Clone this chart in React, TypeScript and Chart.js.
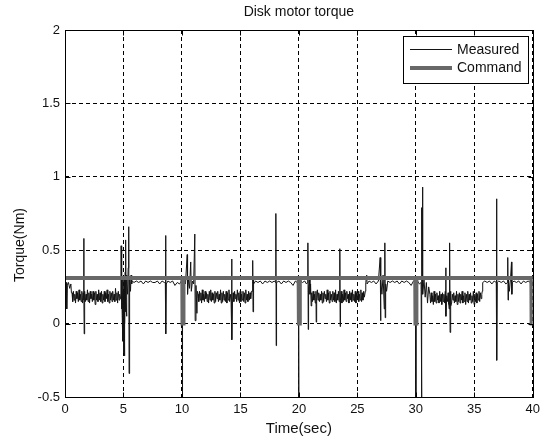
import { useEffect, useRef } from 'react';
import { Chart, registerables } from 'chart.js';

Chart.register(...registerables);

const FONT = "'Liberation Sans', Arial, Helvetica, sans-serif";

const TITLE = 'Disk motor torque';
const X_LABEL = 'Time(sec)';
const Y_LABEL = 'Torque(Nm)';
const LEGEND_LABELS = ['Measured', 'Command'];

const X_MIN = 0;
const X_MAX = 40;
const X_STEP = 5;
const Y_MIN = -0.5;
const Y_MAX = 2;
const Y_STEP = 0.5;

// Measured torque: explicit [time (s), torque (Nm)] points (spikes, transitions, high plateaus)
const measuredStart: [number, number][] = [[0,.27],[0.05,.25],[0.1,.28],[0.15,.1],[0.2,.26],[0.3,.28],[0.4,.24],[0.5,.27],[0.55,.21]];
const measuredSpikes1: [number, number][] = [[1.61,.58],[1.64,-.07]];
const measuredBurst1: [number, number][] = [[4.78,.19],[4.8,.53],[4.83,.1],[4.86,.24],[4.9,.02],[4.93,.3],[4.95,-.12],[4.97,.22],[5.0,-.2],[5.02,.12],[5.05,.31],[5.07,-.22],[5.1,.18],[5.12,0],[5.15,.35],[5.17,.08],[5.2,.57],[5.22,.15],[5.25,.33],[5.28,.05],[5.3,.27],[5.35,.2],[5.4,.38],[5.45,.66],[5.48,-.34],[5.5,.25],[5.55,.31],[5.6,.22],[5.65,.33],[5.7,.27],[5.75,.29]];
const measuredHigh1: [number, number][] = [[5.9,.28],[6.1,.29],[6.3,.28],[6.5,.29],[6.7,.27],[6.9,.29],[7.1,.28],[7.3,.29],[7.5,.28],[7.7,.28],[7.9,.29],[8.1,.27],[8.3,.29],[8.5,.28],[8.58,.28],[8.6,.6],[8.63,-.07],[8.66,.27],[8.8,.29],[9.0,.28],[9.2,.29],[9.4,.26],[9.6,.28],[9.8,.27],[9.95,.29],[10.02,.28],[10.04,-.5],[10.06,.28],[10.15,.29],[10.3,.27],[10.45,.47],[10.48,.2],[10.55,.3],[10.65,.24],[10.75,.42],[10.8,.22],[10.9,.29],[11.0,.27],[11.1,.61],[11.13,.02],[11.2,.26],[11.28,.07],[11.32,.22]];
const measuredSpikes2: [number, number][] = [[14.25,.44],[14.28,-.11],[16.0,.22],[16.05,.43],[16.08,.08],[16.1,.3],[16.15,.27]];
const measuredHigh2: [number, number][] = [[16.3,.29],[16.5,.28],[16.7,.29],[16.9,.27],[17.1,.29],[17.3,.28],[17.5,.29],[17.7,.28],[17.9,.29],[18.0,.28],[18.03,.75],[18.06,-.15],[18.09,.28],[18.3,.29],[18.5,.27],[18.7,.29],[18.9,.28],[19.1,.29],[19.3,.28],[19.5,.26],[19.7,.29],[19.85,.28],[19.96,.28],[19.98,-.5],[20.0,.27],[20.15,.29],[20.3,.28],[20.5,.29],[20.65,.27],[20.75,.28],[20.77,.55],[20.8,-.04],[20.83,.25],[20.9,.3],[20.95,.2],[21.0,.27],[21.05,.12]];
const measuredSpikes3: [number, number][] = [[21.48,.01],[23.5,.51],[23.53,-.02],[25.68,.22],[25.72,.28],[25.8,.33],[25.83,.27]];
const measuredHigh3: [number, number][] = [[26.0,.29],[26.2,.28],[26.4,.29],[26.6,.27],[26.8,.29],[26.95,.45],[26.98,.02],[27.02,.3],[27.1,.2],[27.2,.33],[27.3,.1],[27.35,.55],[27.38,.04],[27.42,.27],[27.5,.22],[27.6,.29],[27.8,.28],[28.0,.29],[28.2,.28],[28.4,.29],[28.6,.27],[28.8,.29],[29.0,.28],[29.2,.29],[29.4,.28],[29.6,.26],[29.8,.29],[29.96,.28],[30.0,-.5],[30.03,.26],[30.15,.29],[30.3,.27],[30.45,.28],[30.48,-.5],[30.52,.79],[30.55,.28],[30.57,.93],[30.6,.2],[30.7,.3],[30.8,.18],[30.9,.28],[31.0,.14],[31.1,.25]];
const measuredSpikes4: [number, number][] = [[32.55,.38],[32.58,.05],[32.85,.1],[32.9,.55],[32.93,-.06],[33.0,.12],[35.68,.22],[35.72,.28]];
const measuredHigh4: [number, number][] = [[35.9,.29],[36.1,.28],[36.3,.29],[36.5,.27],[36.7,.29],[36.88,.28],[36.9,.85],[36.93,-.25],[36.96,.28],[37.1,.29],[37.3,.28],[37.5,.29],[37.7,.27],[37.84,.28],[37.86,.45],[37.89,.16],[37.92,.3],[38.0,.22],[38.1,.31],[38.18,.42],[38.21,.2],[38.25,.28],[38.4,.29],[38.6,.28],[38.8,.29],[39.0,.27],[39.2,.29],[39.4,.28],[39.6,.29],[39.8,.28],[40.0,.29]];

// Measured torque on the low plateaus: samples every SAMPLE_DT seconds from the given start time
const SAMPLE_DT = 0.06;
const low1Start = 0.6;
const low1Torque = [.21,.15,.22,.16,.2,.14,.22,.17,.21,.15,.23,.16,.2,.15,.22,.14,.21,.16,.22,.15,.2,.16,.23,.15,.21,.14,.22,.17,.2,.15,.22,.16,.21,.13,.22,.16,.2,.15,.23,.16,.21,.15,.22,.14,.2,.16,.22,.15,.21,.17,.23,.15,.2,.14,.22,.16,.21,.15,.22,.16,.2,.15,.24,.16,.21,.14,.22,.16,.2,.17];
const low2Start = 11.38;
const low2Torque = [.2,.15,.22,.16,.21,.14,.23,.16,.2,.15,.22,.17,.21,.15,.2,.14,.22,.16,.23,.15,.21,.16,.2,.14,.22,.15,.21,.17,.22,.15,.2,.16,.23,.14,.21,.15,.22,.16,.2,.15,.22,.14,.21,.16,.23,.15,.2,.16,.22,.14,.21,.15,.22,.17,.2,.15,.23,.16,.21,.14,.22,.15,.2,.16,.22,.15,.21,.14,.23,.16,.2,.15,.22,.16,.21,.17,.22];
const low3Start = 21.1;
const low3Torque = [.21,.15,.22,.16,.2,.14,.22,.15,.23,.16,.21,.15,.2,.16,.22,.14,.21,.15,.22,.17,.2,.15,.23,.16,.21,.14,.22,.16,.2,.15,.22,.16,.21,.15,.23,.14,.2,.16,.22,.15,.21,.16,.22,.14,.2,.15,.23,.16,.21,.15,.22,.17,.2,.14,.22,.16,.21,.15,.23,.16,.2,.15,.22,.14,.21,.16,.22,.15,.2,.16,.23,.15,.21,.16,.22,.18];
const low4Start = 31.2;
const low4Torque = [.2,.14,.21,.15,.19,.13,.22,.15,.2,.14,.21,.16,.19,.14,.22,.15,.2,.13,.21,.15,.2,.14,.22,.16,.19,.15,.21,.13,.2,.15,.22,.14,.2,.16,.21,.14,.19,.15,.22,.13,.2,.15,.21,.14,.2,.16,.22,.14,.19,.15,.21,.13,.2,.15,.22,.14,.2,.16,.21,.14,.19,.15,.22,.13,.2,.15,.21,.14,.2,.16,.22,.15,.21,.17,.2];

// Command torque, [time (s), torque (Nm)]
const commandSeries: [number, number][] = [[0,.31],[10.03,.31],[10.05,0],[10.11,0],[10.13,.31],[19.98,.31],[20.0,0],[20.06,0],[20.08,.31],[29.95,.31],[29.97,0],[30.03,0],[30.05,.31],[39.88,.31],[39.9,0],[40,0]];

const MEASURED_COLOR = '#141414';
const COMMAND_COLOR = '#686868';

const sampled = (start: number, values: number[]) =>
  values.map((v, i) => [start + i * SAMPLE_DT, v] as [number, number]);

const measuredSeries: [number, number][] = [
  ...measuredStart, ...sampled(low1Start, low1Torque), ...measuredSpikes1, ...measuredBurst1, ...measuredHigh1,
  ...sampled(low2Start, low2Torque), ...measuredSpikes2, ...measuredHigh2,
  ...sampled(low3Start, low3Torque), ...measuredSpikes3, ...measuredHigh3,
  ...sampled(low4Start, low4Torque), ...measuredSpikes4, ...measuredHigh4,
].sort((a, b) => a[0] - b[0]);

const toPoints = (arr: [number, number][]) => arr.map(([x, y]) => ({ x, y }));

const decorPlugin = {
  id: 'matlabDecor',
  afterDraw(chart: any) {
    const { ctx, chartArea: a, scales } = chart;
    const L = Math.round(a.left) + 0.5;
    const R = Math.round(a.right) + 0.5;
    const T = Math.round(a.top) + 0.5;
    const B = Math.round(a.bottom) + 0.5;
    ctx.save();
    ctx.strokeStyle = '#000';
    ctx.lineWidth = 1;
    ctx.setLineDash([]);
    ctx.beginPath();
    const xs = scales.x;
    const ys = scales.y;
    for (const t of xs.ticks) {
      const px = Math.round(xs.getPixelForValue(t.value)) + 0.5;
      ctx.moveTo(px, B); ctx.lineTo(px, B - 5);
      ctx.moveTo(px, T); ctx.lineTo(px, T + 5);
    }
    for (const t of ys.ticks) {
      const py = Math.round(ys.getPixelForValue(t.value)) + 0.5;
      ctx.moveTo(L, py); ctx.lineTo(L + 5, py);
      ctx.moveTo(R, py); ctx.lineTo(R - 5, py);
    }
    ctx.stroke();
    ctx.strokeRect(L, T, R - L, B - T);

    ctx.fillStyle = '#111';
    ctx.font = `14px ${FONT}`;
    ctx.textAlign = 'center';
    ctx.textBaseline = 'middle';
    ctx.fillText(TITLE, (a.left + a.right) / 2, 12);

    ctx.save();
    ctx.translate(20, 245);
    ctx.rotate(-Math.PI / 2);
    ctx.fillText(Y_LABEL, 0, 0);
    ctx.restore();

    const lx = 403.5, ly = 36.5, lw = 125, lh = 47;
    ctx.fillStyle = '#fff';
    ctx.fillRect(lx, ly, lw, lh);
    ctx.strokeStyle = '#000';
    ctx.lineWidth = 1;
    ctx.strokeRect(lx, ly, lw, lh);
    ctx.beginPath();
    ctx.strokeStyle = MEASURED_COLOR;
    ctx.lineWidth = 1;
    ctx.moveTo(410, 49.5); ctx.lineTo(452, 49.5);
    ctx.stroke();
    ctx.beginPath();
    ctx.strokeStyle = COMMAND_COLOR;
    ctx.lineWidth = 4;
    ctx.moveTo(410, 68); ctx.lineTo(452, 68);
    ctx.stroke();
    ctx.fillStyle = '#111';
    ctx.font = `14px ${FONT}`;
    ctx.textAlign = 'left';
    ctx.textBaseline = 'middle';
    ctx.fillText(LEGEND_LABELS[0], 457, 50);
    ctx.fillText(LEGEND_LABELS[1], 457, 68);
    ctx.restore();
  },
};

export default function App() {
  const ref = useRef<HTMLCanvasElement | null>(null);
  useEffect(() => {
    if (!ref.current) return;
    const chart = new Chart(ref.current, {
      type: 'line',
      data: {
        datasets: [
          {
            label: LEGEND_LABELS[1],
            data: toPoints(commandSeries),
            borderColor: COMMAND_COLOR,
            borderWidth: 4,
            pointRadius: 0,
            order: 0,
          },
          {
            label: LEGEND_LABELS[0],
            data: toPoints(measuredSeries),
            borderColor: MEASURED_COLOR,
            borderWidth: 1,
            pointRadius: 0,
            order: 1,
          },
        ],
      },
      options: {
        animation: false,
        responsive: false,
        events: [],
        layout: { padding: { top: 30, right: 12, bottom: 0, left: 0 } },
        elements: { line: { tension: 0 }, point: { radius: 0 } },
        plugins: {
          legend: { display: false },
          title: { display: false },
          tooltip: { enabled: false },
        },
        scales: {
          x: {
            type: 'linear',
            min: X_MIN,
            max: X_MAX,
            ticks: { stepSize: X_STEP, color: '#111', font: { family: FONT, size: 13 }, padding: 5, maxRotation: 0 },
            grid: { color: '#000', lineWidth: 1, drawTicks: false },
            border: { display: false, dash: [4, 3] },
            title: { display: true, text: X_LABEL, color: '#111', font: { family: FONT, size: 15 }, padding: { top: 0, bottom: 2 } },
            afterFit: (s: any) => { s.height = 43; },
          },
          y: {
            type: 'linear',
            min: Y_MIN,
            max: Y_MAX,
            ticks: {
              stepSize: Y_STEP, color: '#111', font: { family: FONT, size: 13 }, padding: 5,
              callback: (v: any) => String(Number(v)),
            },
            grid: { color: '#000', lineWidth: 1, drawTicks: false },
            border: { display: false, dash: [4, 3] },
            afterFit: (s: any) => { s.width = 65; },
          },
        },
      },
      plugins: [decorPlugin],
    });
    return () => chart.destroy();
  }, []);
  return (
    <div style={{ position: 'fixed', left: 0, top: 0, width: 545, height: 440, background: '#fff' }}>
      <canvas ref={ref} width={545} height={440} style={{ display: 'block' }} />
    </div>
  );
}
